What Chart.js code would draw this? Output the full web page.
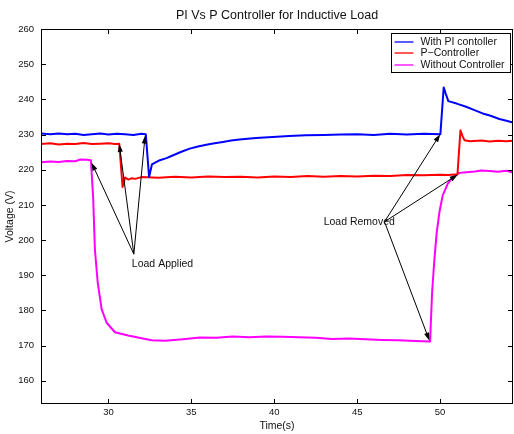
<!DOCTYPE html>
<html>
<head>
<meta charset="utf-8">
<script src="https://cdn.jsdelivr.net/npm/chart.js@4.4.1/dist/chart.umd.min.js"></script>
<style>
  html, body { margin: 0; padding: 0; background: #fff; }
</style>
</head>
<body>
<canvas id="voltChart" width="514" height="434"></canvas>
<script>
// time axis (s) and voltage (V)
const piTime = [25.93, 26.5, 27, 27.5, 28, 28.5, 29, 29.5, 30, 30.5, 31, 31.5, 32, 32.25, 32.45, 32.62,
  33.1, 33.5, 33.9, 34.4, 34.9, 35.4, 35.9, 36.4, 36.9, 37.4, 37.9, 38.9, 39.9, 40.9, 41.9, 43, 44, 45,
  46, 47, 48, 49, 50.02, 50.22, 50.35, 50.5, 51, 51.57, 52, 52.57, 53, 53.58, 54, 54.4];
const piVolt = [230.3, 230.1, 230.3, 230.1, 230.2, 229.9, 230.1, 230.3, 230.0, 230.2, 230.1, 229.9, 230.2, 230.1, 217.9, 221.5,
  222.7, 223.3, 224.1, 225.1, 226.0, 226.6, 227.1, 227.5, 227.9, 228.3, 228.6, 229.0, 229.3, 229.6, 229.8, 229.9, 230.0, 230.1,
  229.9, 230.2, 230.0, 230.2, 230.1, 243.4, 241.5, 239.5, 238.8, 237.9, 237.1, 236.0, 235.4, 234.4, 233.9, 233.4];

const pTime = [25.93, 26.5, 27, 27.5, 28, 28.5, 29, 29.5, 30, 30.4, 30.65, 30.85, 31.0, 31.2, 31.4, 31.6,
  32, 33, 34, 35, 36, 37, 38, 39, 40, 41, 42, 43, 44, 45, 46, 47, 48, 49, 50, 50.5, 51.05, 51.23,
  51.35, 51.47, 51.8, 52.5, 53, 53.5, 54, 54.4];
const pVolt = [227.3, 227.5, 227.2, 227.4, 227.3, 227.6, 227.3, 227.4, 227.5, 227.3, 227.4, 215.1, 217.8, 217.2, 217.6, 217.4,
  217.9, 217.7, 218.0, 217.8, 218.1, 217.9, 218.0, 217.8, 218.1, 217.9, 218.2, 218.0, 218.2, 218.1, 218.3, 218.2, 218.5, 218.4, 218.6, 218.5, 218.7, 231.2,
  229.6, 228.4, 228.1, 228.3, 228.0, 228.2, 228.1, 228.2];

const noCtrlTime = [25.93, 26.5, 27, 27.5, 28, 28.3, 28.7, 28.94, 29.08, 29.18, 29.35, 29.59, 29.89, 30.39, 31.19,
  32.6, 33.4, 34.5, 35.5, 36.5, 37.5, 38.5, 39.5, 40.5, 41.5, 42.5, 43.5, 44.5, 45.5, 46.5, 47.5, 48.5, 49.4,
  49.52, 49.66, 49.8, 49.96, 50.16, 50.46, 50.77, 51.17, 51.6, 52.1, 52.5, 53, 53.5, 54, 54.4];
const noCtrlVolt = [222.1, 222.3, 222.2, 222.5, 222.4, 222.9, 222.8, 222.7, 211.7, 197.4, 188.0, 180.3, 176.5, 173.8, 172.9,
  171.5, 171.4, 171.8, 172.3, 172.2, 172.6, 172.4, 172.6, 172.5, 172.4, 172.2, 171.9, 172.0, 171.8, 171.6, 171.5, 171.3, 171.2,
  185.1, 194.6, 202.2, 207.9, 212.7, 216.0, 217.9, 219.1, 219.3, 219.5, 219.8, 219.6, 219.4, 219.7, 219.2];

const seriesNames = ["With PI contoller", "P\u2212Controller", "Without Controller"];
const seriesColors = ["#0000ff", "#ff0000", "#ff00ff"];

// annotation anchors in data units (time, voltage)
const appliedLabel = [31.41, 193.1];
const appliedTail = [31.53, 196.0];
const appliedTips = [[28.98, 222.0], [30.65, 227.3], [32.21, 229.7]];
const removedLabel = [42.98, 205.1];
const removedTail = [46.65, 205.2];
const removedTips = [[50.01, 230.1], [51.07, 218.6], [49.36, 171.4]];

const FONT = "'Liberation Sans', Arial, Helvetica, sans-serif";

function pairs(xs, ys) {
  return xs.map((t, i) => ({ x: t, y: ys[i] }));
}

function arrow(ctx, x0, y0, x1, y1) {
  const ang = Math.atan2(y1 - y0, x1 - x0);
  const len = 8, half = 2.6;
  ctx.beginPath();
  ctx.moveTo(x0, y0);
  ctx.lineTo(x1 - Math.cos(ang) * len * 0.8, y1 - Math.sin(ang) * len * 0.8);
  ctx.stroke();
  ctx.beginPath();
  ctx.moveTo(x1, y1);
  ctx.lineTo(x1 - Math.cos(ang) * len - Math.sin(ang) * half, y1 - Math.sin(ang) * len + Math.cos(ang) * half);
  ctx.lineTo(x1 - Math.cos(ang) * len + Math.sin(ang) * half, y1 - Math.sin(ang) * len - Math.cos(ang) * half);
  ctx.closePath();
  ctx.fill();
}

const matlabFrame = {
  id: "matlabFrame",
  afterDraw(chart) {
    const { ctx, chartArea: a, scales: { x, y } } = chart;
    ctx.save();
    ctx.strokeStyle = "#000";
    ctx.fillStyle = "#000";
    ctx.lineWidth = 1;

    // axes box
    ctx.strokeRect(a.left + 0.5, a.top + 0.5, a.right - a.left - 1, a.bottom - a.top - 1);

    // inward ticks on all four sides
    ctx.beginPath();
    x.ticks.forEach((tk) => {
      const px = Math.round(x.getPixelForValue(tk.value)) + 0.5;
      ctx.moveTo(px, a.bottom); ctx.lineTo(px, a.bottom - 5);
      ctx.moveTo(px, a.top); ctx.lineTo(px, a.top + 5);
    });
    y.ticks.forEach((tk) => {
      const py = Math.round(y.getPixelForValue(tk.value)) + 0.5;
      ctx.moveTo(a.left, py); ctx.lineTo(a.left + 5, py);
      ctx.moveTo(a.right, py); ctx.lineTo(a.right - 5, py);
    });
    ctx.stroke();

    // title
    ctx.font = "12.5px " + FONT;
    ctx.textAlign = "center";
    ctx.textBaseline = "middle";
    ctx.fillStyle = "#111";
    ctx.fillText("PI Vs P Controller for Inductive Load", (a.left + a.right) / 2, 15.5);

    // annotations
    ctx.fillStyle = "#000";
    ctx.lineWidth = 1;
    ctx.font = "10.5px " + FONT;
    ctx.textAlign = "left";
    const tailA = [x.getPixelForValue(appliedTail[0]), y.getPixelForValue(appliedTail[1])];
    appliedTips.forEach(([t, v]) => arrow(ctx, tailA[0], tailA[1], x.getPixelForValue(t), y.getPixelForValue(v)));
    const tailR = [x.getPixelForValue(removedTail[0]), y.getPixelForValue(removedTail[1])];
    removedTips.forEach(([t, v]) => arrow(ctx, tailR[0], tailR[1], x.getPixelForValue(t), y.getPixelForValue(v)));
    ctx.fillStyle = "#111";
    ctx.fillText("Load Applied", x.getPixelForValue(appliedLabel[0]), y.getPixelForValue(appliedLabel[1]));
    ctx.fillText("Load Removed", x.getPixelForValue(removedLabel[0]), y.getPixelForValue(removedLabel[1]));

    // legend box
    const bx = a.right - 121.5, by = a.top + 4.5, bw = 119, bh = 39;
    ctx.fillStyle = "#fff";
    ctx.fillRect(bx, by, bw, bh);
    ctx.strokeStyle = "#000";
    ctx.lineWidth = 1;
    ctx.strokeRect(bx, by, bw, bh);
    seriesNames.forEach((name, i) => {
      const ry = Math.round(by + 8 + i * 11.5);
      ctx.strokeStyle = seriesColors[i];
      ctx.lineWidth = 1.3;
      ctx.beginPath();
      ctx.moveTo(bx + 3, ry); ctx.lineTo(bx + 22, ry);
      ctx.stroke();
      ctx.fillStyle = "#111";
      ctx.fillText(name, bx + 29, ry);
    });
    ctx.restore();
  }
};

new Chart(document.getElementById("voltChart"), {
  type: "line",
  data: {
    datasets: [
      { label: seriesNames[0], data: pairs(piTime, piVolt), borderColor: seriesColors[0] },
      { label: seriesNames[1], data: pairs(pTime, pVolt), borderColor: seriesColors[1] },
      { label: seriesNames[2], data: pairs(noCtrlTime, noCtrlVolt), borderColor: seriesColors[2] },
    ],
  },
  options: {
    responsive: false,
    animation: false,
    events: [],
    layout: { padding: { top: 29, right: 1, left: 0, bottom: 0 } },
    elements: {
      line: { borderWidth: 2, tension: 0, fill: false, borderJoinStyle: "round", borderCapStyle: "round" },
      point: { radius: 0 },
    },
    plugins: {
      legend: { display: false },
      title: { display: false },
      tooltip: { enabled: false },
    },
    scales: {
      x: {
        type: "linear",
        min: 25.93,
        max: 54.4,
        afterFit: (s) => { s.height = 30; },
        grid: { display: false, drawTicks: false },
        border: { display: false },
        ticks: {
          stepSize: 5,
          includeBounds: false,
          maxRotation: 0,
          padding: 3,
          color: "#111",
          font: { family: FONT, size: 9.5 },
        },
        title: {
          display: true,
          text: "Time(s)",
          color: "#111",
          padding: { top: 0, bottom: 2 },
          font: { family: FONT, size: 10.5 },
        },
      },
      y: {
        min: 153.4,
        max: 260,
        afterFit: (s) => { s.width = 41; },
        grid: { display: false, drawTicks: false },
        border: { display: false },
        ticks: {
          stepSize: 10,
          includeBounds: false,
          padding: 7,
          color: "#111",
          font: { family: FONT, size: 9.5 },
        },
        title: {
          display: true,
          text: "Voltage (V)",
          color: "#111",
          padding: { top: 4, bottom: 0 },
          font: { family: FONT, size: 10.5 },
        },
      },
    },
  },
  plugins: [matlabFrame],
});
</script>
</body>
</html>
